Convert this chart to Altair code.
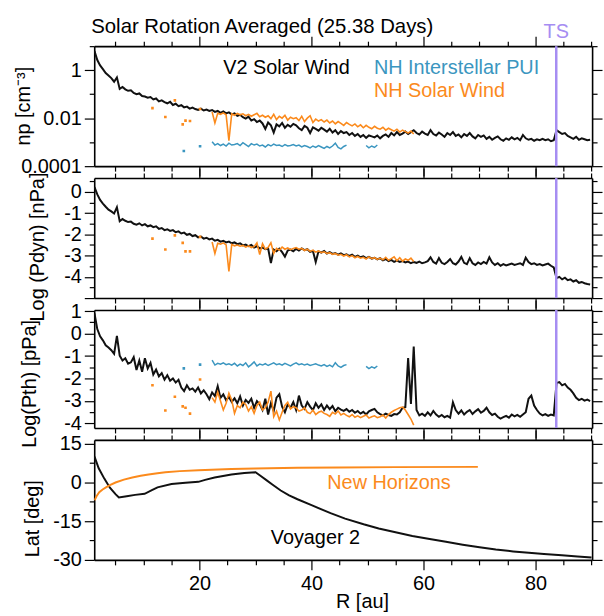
import altair as alt
import pandas as pd

FONT = "Liberation Sans"
BLACK = "#111111"
ORANGE = "#fb8a1c"
BLUE = "#3b96c0"
PURPLE = "#a68df2"

TS_R = 83.7                 # termination shock crossing of Voyager 2
R_DOMAIN = [1.2, 90.1]
X_TICKS = [5, 10, 15, 20, 25, 30, 35, 40, 45, 50, 55, 60, 65, 70, 75, 80, 85, 90]

# ---------------- Voyager 2 solar-rotation averages (every 0.5 au from 1.25 au)
V2_R_START = 1.25
v2_log_np = [
    0.80, 0.42, 0.20, 0.04, -0.12, -0.22, -0.33, -0.48, -0.30, -0.78,
    -0.70, -0.80, -0.86, -0.84, -0.95, -1.00, -0.97, -1.08, -1.10, -1.15,
    -1.12, -1.22, -1.18, -1.30, -1.26, -1.33, -1.38, -1.32, -1.45, -1.40,
    -1.50, -1.46, -1.55, -1.52, -1.60, -1.56, -1.62, -1.66, -1.60, -1.68,
    -1.64, -1.70, -1.66, -1.74, -1.70, -1.78, -1.72, -1.80, -1.76, -1.84,
    -1.80, -1.90, -1.86, -1.96, -2.02, -1.94, -2.10, -2.04, -2.16, -2.10,
    -2.22, -2.45, -2.18, -2.30, -2.60, -2.26, -2.34, -2.20, -2.40, -2.28,
    -2.36, -2.24, -2.30, -2.42, -2.50, -2.32, -2.40, -2.62, -2.38, -2.45,
    -2.52, -2.40, -2.48, -2.56, -2.44, -2.60, -2.50, -2.66, -2.54, -2.62,
    -2.58, -2.70, -2.62, -2.74, -2.66, -2.78, -2.70, -2.82, -2.72, -2.76,
    -2.80, -2.72, -2.84, -2.74, -2.68, -2.78, -2.62, -2.72, -2.58, -2.70,
    -2.64, -2.56, -2.66, -2.58, -2.50, -2.62, -2.68, -2.56, -2.64, -2.70,
    -2.50, -2.66, -2.72, -2.60, -2.68, -2.78, -2.62, -2.70, -2.58, -2.74,
    -2.68, -2.80, -2.66, -2.74, -2.62, -2.76, -2.84, -2.70, -2.78, -2.72,
    -2.86, -2.78, -2.90, -2.82, -2.76, -2.88, -2.94, -2.84, -2.90, -2.80,
    -2.88, -2.82, -2.92, -2.70, -2.84, -2.90, -2.86, -2.94, -2.88, -2.92,
    -2.86, -2.92, -2.88, -2.96, -2.92, -2.50, -2.58, -2.66, -2.62, -2.74,
    -2.80, -2.86, -2.78, -2.90, -2.84, -2.88, -2.92, -2.90,
]
v2_log_pdyn = [
    0.22, -0.12, -0.38, -0.55, -0.70, -0.84, -0.92, -1.02, -0.72, -1.38,
    -1.28, -1.36, -1.42, -1.40, -1.50, -1.54, -1.48, -1.58, -1.52, -1.62,
    -1.58, -1.66, -1.62, -1.74, -1.70, -1.80, -1.76, -1.84, -1.80, -1.90,
    -1.86, -1.96, -1.92, -2.02, -1.98, -2.08, -2.04, -2.14, -2.10, -2.20,
    -2.16, -2.24, -2.20, -2.30, -2.26, -2.34, -2.30, -2.38, -2.34, -2.42,
    -2.38, -2.46, -2.42, -2.52, -2.48, -2.56, -2.50, -2.62, -2.56, -2.66,
    -2.62, -2.70, -2.66, -3.35, -2.72, -2.80, -2.68, -2.84, -3.05, -2.76,
    -2.72, -2.80, -2.68, -2.76, -2.66, -2.74, -2.70, -2.82, -2.78, -3.30,
    -2.80, -2.86, -2.78, -2.90, -2.84, -2.92, -2.88, -2.96, -2.90, -2.98,
    -2.94, -3.02, -2.96, -3.06, -3.00, -3.08, -3.04, -3.12, -3.06, -3.14,
    -3.10, -3.18, -3.12, -3.22, -3.16, -3.26, -3.20, -3.30, -3.24, -3.30,
    -3.26, -3.32, -3.28, -3.36, -3.30, -3.34, -3.28, -3.36, -3.32, -3.26,
    -3.08, -3.30, -3.38, -3.12, -3.34, -3.40, -3.30, -3.16, -3.36, -3.42,
    -3.28, -3.06, -3.34, -3.40, -3.12, -3.36, -3.44, -3.32, -3.40, -3.30,
    -3.38, -3.08, -3.32, -3.44, -3.36, -3.48, -3.40, -3.46, -3.42, -3.38,
    -3.44, -3.40, -3.36, -3.44, -3.10, -3.30, -3.40, -3.36, -3.44, -3.40,
    -3.46, -3.42, -3.38, -3.48, -3.56, -4.06, -4.00, -4.12, -4.04, -4.16,
    -4.12, -4.22, -4.16, -4.28, -4.24, -4.30, -4.34, -4.36,
]
v2_log_pth = [
    0.90, 0.20, -0.12, -0.30, -0.52, -0.62, -0.74, -0.90, -0.10, -0.98,
    -1.20, -1.10, -1.34, -1.28, -1.05, -1.62, -1.20, -1.70, -1.10, -1.55,
    -1.30, -1.82, -1.60, -1.90, -1.76, -2.05, -1.85, -2.10, -2.00, -2.18,
    -2.06, -2.40, -2.56, -2.30, -2.50, -2.44, -2.58, -2.40, -2.66, -2.52,
    -2.70, -2.92, -2.62, -2.78, -2.34, -2.86, -2.70, -2.96, -2.82, -3.04,
    -2.88, -3.10, -2.80, -3.20, -2.95, -3.08, -2.90, -3.30, -3.00, -3.15,
    -3.40, -2.90, -3.60, -3.10, -3.45, -2.85, -2.70, -3.25, -3.50, -3.15,
    -3.30, -3.05, -3.40, -2.76, -3.20, -3.35, -3.05, -3.25, -3.40, -3.10,
    -3.30, -3.15, -3.40, -3.20, -3.36, -3.22, -3.45, -3.30, -3.38, -3.44,
    -3.36, -3.48, -3.40, -3.52, -3.44, -3.56, -3.48, -3.60, -3.46, -3.40,
    -3.35, -3.50, -3.58, -3.64, -3.56, -3.62, -3.66, -3.58, -3.60, -3.50,
    -3.30, -3.27, -1.09, -3.13, -0.58, -3.40, -3.64, -3.56, -3.66, -3.50,
    -3.64, -3.44, -3.60, -3.70, -3.62, -3.72, -3.66, -3.74, -3.06, -3.40,
    -3.56, -3.42, -3.60, -3.48, -3.40, -3.58, -3.46, -3.36, -3.52, -3.44,
    -3.30, -3.50, -3.62, -3.56, -3.70, -3.78, -3.72, -3.66, -3.74, -3.60,
    -3.68, -3.62, -3.70, -3.60, -3.50, -2.90, -2.76, -3.20, -3.40, -3.56,
    -3.64, -3.58, -3.66, -3.60, -3.64, -2.20, -2.16, -2.30, -2.24, -2.40,
    -2.50, -2.66, -2.86, -2.96, -2.90, -2.98, -2.94, -3.00,
]

# ---------------- New Horizons solar wind (every 0.5 au from 22.25 au)
NH_R_START = 22.25
nh_log_np = [
    -1.74, -2.20, -1.80, -1.84, -1.78, -1.86, -2.94, -1.82, -1.88, -1.80,
    -1.86, -1.82, -1.90, -1.84, -1.92, -1.86, -1.80, -1.94, -1.88, -1.96,
    -1.90, -2.02, -1.84, -2.06, -1.92, -2.00, -1.88, -2.08, -1.96, -2.02,
    -1.98, -2.10, -1.92, -2.14, -2.00, -1.90, -2.18, -2.04, -2.12, -2.06,
    -2.16, -2.08, -2.20, -2.12, -2.24, -2.14, -2.22, -2.30, -2.18, -2.26,
    -2.32, -2.24, -2.36, -2.28, -2.40, -2.30, -2.38, -2.44, -2.34, -2.42,
    -2.46, -2.38, -2.50, -2.42, -2.48, -2.54, -2.46, -2.58, -2.50, -2.56,
    -2.62, -2.54, -2.66,
]
nh_log_pdyn = [
    -2.36, -2.90, -2.42, -2.46, -2.40, -2.50, -3.75, -2.48, -2.54, -2.50,
    -2.56, -2.52, -2.60, -2.54, -2.62, -2.58, -2.40, -2.95, -2.44, -2.70,
    -2.62, -2.40, -2.90, -2.66, -2.74, -2.60, -2.70, -2.64, -2.72, -2.66,
    -2.62, -2.70, -2.66, -2.76, -2.70, -2.80, -2.74, -2.84, -2.78, -2.86,
    -2.82, -2.90, -2.86, -2.94, -2.90, -2.98, -2.94, -3.02, -2.96, -3.06,
    -3.00, -3.10, -3.04, -3.12, -3.08, -3.16, -3.06, -3.14, -3.10, -3.18,
    -3.12, -3.20, -3.08, -3.22, -3.14, -3.06, -3.24, -3.10, -3.26, -3.16,
    -3.22, -3.12, -3.28,
]
nh_log_pth = [
    -2.85, -3.05, -2.60, -3.00, -3.40, -3.10, -2.65, -2.95, -3.55, -3.20,
    -3.30, -3.05, -3.15, -3.45, -3.25, -3.55, -3.20, -3.05, -3.40, -3.30,
    -3.05, -2.56, -3.70, -3.45, -3.84, -3.50, -3.20, -3.05, -3.35, -3.25,
    -3.30, -3.45, -3.40, -3.30, -3.50, -3.56, -3.40, -3.60, -3.50, -3.45,
    -3.55, -3.60, -3.68, -3.50, -3.58, -3.44, -3.62, -3.55, -3.64, -3.70,
    -3.60, -3.72, -3.66, -3.74, -3.68, -3.62, -3.76, -3.70, -3.66, -3.74,
    -3.70, -3.62, -3.76, -3.60, -3.50, -3.42, -3.36, -3.30, -3.27, -3.40,
    -3.60, -3.80, -4.07,
]
# sparse early New Horizons averages
nh_dot_r = [11.6, 13.9, 15.6, 17.0, 17.5, 18.3, 20.1]
nh_dot_log_np = [-1.58, -1.95, -1.26, -2.26, -2.10, -2.12, -1.62]
nh_dot_log_pdyn = [-2.20, -2.71, -2.05, -2.40, -2.80, -2.80, -2.12]
nh_dot_log_pth = [-2.30, -3.42, -2.81, -3.24, -3.30, -3.56, -2.04]

# ---------------- New Horizons interstellar pickup ions
PUI_R_START = 22.25
pui_log_np = [
    -2.98, -3.12, -3.06, -3.14, -3.08, -3.16, -3.04, -3.12, -3.10, -3.06,
    -3.14, -3.02, -3.10, -3.18, -3.06, -3.12, -3.08, -3.16, -3.12, -3.20,
    -3.10, -3.16, -3.08, -3.14, -3.12, -3.18, -3.10, -3.16, -3.14, -3.10,
    -3.16, -3.12, -3.20, -3.14, -3.18, -3.24, -3.16, -3.22, -3.14, -3.20,
    -3.26, -3.18, -3.24, -3.16, -3.04, -3.22, -3.28, -3.18, -3.12,
]
pui_log_pth = [
    -1.18, -1.40, -1.32, -1.36, -1.30, -1.38, -1.34, -1.40, -1.32, -1.44,
    -1.36, -1.42, -1.30, -1.48, -1.38, -1.26, -1.44, -1.36, -1.40, -1.34,
    -1.42, -1.36, -1.30, -1.38, -1.34, -1.40, -1.32, -1.38, -1.44, -1.36,
    -1.30, -1.38, -1.34, -1.40, -1.36, -1.42, -1.38, -1.34, -1.40, -1.44,
    -1.38, -1.46, -1.40, -1.48, -1.30, -1.44, -1.50, -1.42, -1.38,
]
pui2_r = [49.75, 50.25, 50.75, 51.25, 51.75]
pui2_log_np = [-3.14, -3.24, -3.16, -3.22, -3.12]
pui2_log_pth = [-1.46, -1.56, -1.48, -1.54, -1.44]
pui_dot_r = [17.2, 20.1]
pui_dot_log_np = [-3.37, -3.17]
pui_dot_log_pth = [-1.55, -1.38]

# ---------------- heliographic latitude
v2_lat_r = [1.25, 2.0, 3.0, 4.0, 5.0, 5.6, 7.0, 8.5, 10.2, 11.5, 12.5, 15.0,
            17.5, 19.8, 21.0, 22.7, 25.7, 28.0, 30.0, 31.0, 32.0, 33.0, 34.5,
            36.0, 37.5, 40.0, 43.4, 46.0, 49.3, 52.0, 55.2, 58.0, 61.1, 64.0,
            67.0, 70.0, 72.9, 76.0, 78.8, 81.5, 84.7, 87.5, 90.0]
v2_lat = [10.0, 5.5, 1.5, -2.0, -4.5, -5.8, -5.3, -4.8, -4.4, -3.0, -1.9, -0.6,
          -0.1, 0.25, 1.0, 1.9, 3.1, 3.7, 4.0, 2.4, 0.8, -0.8, -3.1,
          -5.0, -6.5, -8.8, -11.9, -14.0, -16.2, -17.8, -19.4, -20.7, -21.9, -23.0,
          -24.1, -25.1, -26.0, -26.7, -27.2, -27.7, -28.2, -28.7, -29.1]
nh_lat_r = [1.25, 1.7, 2.1, 2.7, 3.3, 4.0, 5.0, 6.5, 8.0, 9.5, 10.9, 12.5,
            13.9, 16.5, 19.8, 25.7, 30.0, 37.5, 45.0, 55.0, 69.7]
nh_lat = [-6.9, -5.0, -3.75, -2.7, -1.9, -1.0, 0.0, 1.1, 1.9, 2.6, 3.1, 3.6,
          4.0, 4.4, 4.75, 5.25, 5.45, 5.7, 5.85, 5.95, 6.05]


def grid(start, values):
    return [start + 0.5 * i for i in range(len(values))]


def series(r, vals, log_to_linear=False):
    v = [10 ** x for x in vals] if log_to_linear else list(vals)
    return pd.DataFrame({"R": r, "v": v})


# ---------------- axis styling
AX = dict(domainColor="black", domainWidth=1.6, tickColor="black", tickWidth=1.2,
          labelFont=FONT, labelFontSize=20, labelColor="black", grid=False,
          titleFont=FONT, titleFontSize=20, titleFontWeight="normal",
          titleColor="black", labelOverlap=False, labelFlush=False)
XSCALE = alt.Scale(domain=R_DOMAIN, nice=False, zero=False)


def x_axis(orient, labels=False):
    size = {"condition": {"test": "datum.value % 20 === 0", "value": 10}, "value": 5}
    if labels:
        return alt.Axis(orient=orient, values=X_TICKS, tickSize=size,
                        labelExpr="datum.value % 20 === 0 ? datum.value + '' : ''",
                        labelPadding=4, title="R [au]", titleX=270, titleY=42,
                        titleAlign="center", titleBaseline="middle", **AX)
    return alt.Axis(orient=orient, values=X_TICKS, tickSize=size, labels=False,
                    title=None, **AX)


def y_axis(orient, values, major_test, label_expr=None, title=None,
           title_x=0, title_y=0):
    size = {"condition": {"test": major_test, "value": 10}, "value": 5}
    if orient == "left":
        return alt.Axis(orient=orient, values=values, tickSize=size,
                        labelExpr=label_expr, labelPadding=3, title=title,
                        titleAngle=270, titleX=title_x, titleY=title_y,
                        titleAlign="center", titleBaseline="middle", **AX)
    return alt.Axis(orient=orient, values=values, tickSize=size, labels=False,
                    title=None, **AX)


def line(df, color, width, xax, yscale, yax=None, field="v"):
    x = alt.X("R:Q", scale=XSCALE, axis=xax) if xax is not None else alt.X("R:Q", scale=XSCALE, axis=None)
    y = alt.Y(f"{field}:Q", scale=yscale, axis=yax) if yax is not None else alt.Y(f"{field}:Q", scale=yscale, axis=None)
    return alt.Chart(df).mark_line(color=color, strokeWidth=width, clip=True).encode(x=x, y=y)


def dots(df, color, yscale):
    return alt.Chart(df).mark_square(color=color, size=7, opacity=1, clip=True).encode(
        x=alt.X("R:Q", scale=XSCALE, axis=None),
        y=alt.Y("v:Q", scale=yscale, axis=None))


def label(text, color, x, y, align="left", size=20):
    return alt.Chart(pd.DataFrame({"t": [text]})).mark_text(
        font=FONT, fontSize=size, color=color, align=align, baseline="alphabetic"
    ).encode(x=alt.value(x), y=alt.value(y), text="t:N")


ts_df = pd.DataFrame({"R": [TS_R], "t": ["TS"]})
ts_rule = alt.Chart(ts_df).mark_rule(color=PURPLE, strokeWidth=2.5).encode(
    x=alt.X("R:Q", scale=XSCALE, axis=None))

W = 502

# ---------------- panel 1: proton density
y1 = alt.Scale(type="log", domain=[0.0001, 10], nice=False)
t1 = "datum.value === 1 || datum.value === 0.01 || datum.value === 0.0001"
v1 = [0.0001, 0.001, 0.01, 0.1, 1, 10]
p1 = alt.layer(
    line(series(grid(V2_R_START, v2_log_np), v2_log_np, True), BLACK, 2, x_axis("bottom"), y1,
         y_axis("left", v1, t1,
                "datum.value === 1 ? '1' : datum.value === 0.01 ? '0.01' : datum.value === 0.0001 ? '0.0001' : ''",
                "np [cm⁻³]", -71, 60)),
    line(series(grid(NH_R_START, nh_log_np), nh_log_np, True), ORANGE, 1.6, x_axis("top"), y1,
         y_axis("right", v1, t1)),
    dots(series(nh_dot_r, nh_dot_log_np, True), ORANGE, y1),
    line(series(grid(PUI_R_START, pui_log_np), pui_log_np, True), BLUE, 1.5, None, y1),
    line(series(pui2_r, pui2_log_np, True), BLUE, 1.5, None, y1),
    dots(series(pui_dot_r, pui_dot_log_np, True), BLUE, y1),
    ts_rule,
    alt.Chart(ts_df).mark_text(font=FONT, fontSize=20, color=PURPLE, align="center",
                               baseline="alphabetic").encode(
        x=alt.X("R:Q", scale=XSCALE, axis=None), y=alt.value(-8), text="t:N"),
    label("Solar Rotation Averaged (25.38 Days)", "black", -3, -13, size=20.5),
    label("V2 Solar Wind", "black", 130, 28.5),
    label("NH Interstellar PUI", BLUE, 282, 28.5),
    label("NH Solar Wind", ORANGE, 282, 51.5),
).resolve_axis(x="independent", y="independent").properties(width=W, height=121)

# ---------------- panel 2: dynamic pressure
y2 = alt.Scale(domain=[-5, 0.65], nice=False, zero=False)
v2t = [-5, -4.5, -4, -3.5, -3, -2.5, -2, -1.5, -1, -0.5, 0, 0.5]
t2 = "datum.value % 1 === 0"
p2 = alt.layer(
    line(series(grid(V2_R_START, v2_log_pdyn), v2_log_pdyn), BLACK, 2, x_axis("bottom"), y2,
         y_axis("left", v2t, t2,
                "datum.value % 1 === 0 && datum.value > -5 ? datum.value + '' : ''",
                "Log (Pdyn) [nPa]", -57, 69)),
    line(series(grid(NH_R_START, nh_log_pdyn), nh_log_pdyn), ORANGE, 1.6, x_axis("top"), y2,
         y_axis("right", v2t, t2)),
    dots(series(nh_dot_r, nh_dot_log_pdyn), ORANGE, y2),
    ts_rule,
).resolve_axis(x="independent", y="independent").properties(width=W, height=121)

# ---------------- panel 3: thermal pressure
y3 = alt.Scale(domain=[-4.2, 1.05], nice=False, zero=False)
v3t = [-4, -3.5, -3, -2.5, -2, -1.5, -1, -0.5, 0, 0.5, 1]
p3 = alt.layer(
    line(series(grid(V2_R_START, v2_log_pth), v2_log_pth), BLACK, 2, x_axis("bottom"), y3,
         y_axis("left", v3t, t2, "datum.value % 1 === 0 ? datum.value + '' : ''",
                "Log(Pth) [pPa]", -65, 74)),
    line(series(grid(NH_R_START, nh_log_pth), nh_log_pth), ORANGE, 1.6, x_axis("top"), y3,
         y_axis("right", v3t, t2)),
    dots(series(nh_dot_r, nh_dot_log_pth), ORANGE, y3),
    line(series(grid(PUI_R_START, pui_log_pth), pui_log_pth), BLUE, 1.5, None, y3),
    line(series(pui2_r, pui2_log_pth), BLUE, 1.5, None, y3),
    dots(series(pui_dot_r, pui_dot_log_pth), BLUE, y3),
    ts_rule,
).resolve_axis(x="independent", y="independent").properties(width=W, height=119)

# ---------------- panel 4: latitude
y4 = alt.Scale(domain=[-30, 16.5], nice=False, zero=False)
v4t = [-30, -22.5, -15, -7.5, 0, 7.5, 15]
t4 = "datum.value % 15 === 0"
p4 = alt.layer(
    line(series(v2_lat_r, v2_lat), BLACK, 2, x_axis("bottom", labels=True), y4,
         y_axis("left", v4t, t4, "datum.value % 15 === 0 ? datum.value + '' : ''",
                "Lat [deg]", -62, 79)),
    line(series(nh_lat_r, nh_lat), ORANGE, 2, x_axis("top"), y4,
         y_axis("right", v4t, t4)),
    label("New Horizons", ORANGE, 235, 49),
    label("Voyager 2", "black", 178, 105),
).resolve_axis(x="independent", y="independent").properties(width=W, height=121)

chart = alt.vconcat(p1, p2, p3, p4, spacing=12, bounds="flush").properties(
    padding={"left": 13, "top": 14, "right": 0, "bottom": 0},
).configure_view(stroke=None).configure(background="white")

chart.save("out.html", embed_options={"renderer": "svg", "actions": False})
